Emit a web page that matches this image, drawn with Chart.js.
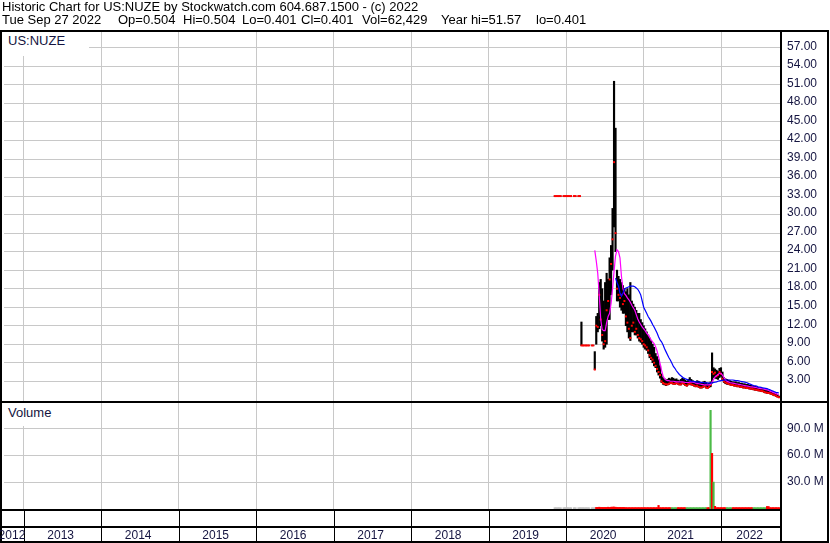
<!DOCTYPE html>
<html>
<head>
<meta charset="utf-8">
<title>US:NUZE historic chart</title>
<script src="https://cdn.jsdelivr.net/npm/chart.js@4.4.1/dist/chart.umd.min.js"></script>
<style>
  html, body { margin: 0; padding: 0; background: #fff; }
  #wrap { position: relative; width: 830px; height: 543px; overflow: hidden;
          font-family: Arial, "Liberation Sans", sans-serif; }
  #chart { position: absolute; left: 0; top: 0; }
  .t { position: absolute; font-size: 13px; line-height: 13px; white-space: nowrap; color: #000; }
  .box { position: absolute; background: #fff; color: #141440; font-size: 13px; line-height: 13px; }
</style>
</head>
<body>
<div id="wrap">
  <canvas id="chart" width="830" height="543"></canvas>
  <div class="t" style="left:2px;top:0">Historic Chart for US:NUZE by Stockwatch.com 604.687.1500 - (c) 2022</div>
  <div class="t" style="left:2px;top:13px">Tue Sep 27 2022</div>
  <div class="t" style="left:118px;top:13px">Op=0.504</div>
  <div class="t" style="left:183px;top:13px">Hi=0.504</div>
  <div class="t" style="left:242px;top:13px">Lo=0.401</div>
  <div class="t" style="left:301px;top:13px">Cl=0.401</div>
  <div class="t" style="left:362px;top:13px">Vol=62,429</div>
  <div class="t" style="left:441px;top:13px">Year hi=51.57</div>
  <div class="t" style="left:536px;top:13px">lo=0.401</div>
  <div class="box" style="left:2px;top:32px;width:81px;height:22px;padding:2px 0 0 6px;">US:NUZE</div>
  <div class="box" style="left:2px;top:403px;width:60px;height:20px;padding:3px 0 0 6px;">Volume</div>
</div>
<script>
// weekly bars, first week starts 7 Nov 2019
const firstWeek = '2019-11-07';

const high = [
  33, 33, 33, 33, 33, null, 33, 33, 33, 33,
  33, 33, null, 33, 33, null, 33, 33, 12.6, 8.8,
  8.8, 8.8, 8.8, 8.8, null, 8.8, 8.8, 7.8, 13.5, 14,
  19, 19.5, 18, 16, 19, 20.5, 19.5, 23, 25, 31,
  51.6, 44, 21, 20, 19.5, 19, 18.5, 18, 17.5, 18,
  17, 19, 16, 15.5, 15, 14.5, 14, 14, 13, 12.5,
  12, 11.5, 11, 10.5, 10, 9.5, 9, 8.5, 7.5, 7,
  6.5, 5.5, 4.2, 3.6, 3.4, 3.2, 3.3, 3.5, 3.4, 3.6,
  3.5, 3.3, 3.4, 3.2, 3.1, 3.3, 3.5, 3.4, 3.2, 3.0,
  3.3, 3.6, 3.3, 3.1, 3.0, 2.9, 3.1, 3.0, 2.8, 2.7,
  2.9, 3.0, 2.8, 2.6, 2.7, 2.9, 7.6, 5.2, 5.0, 4.8,
  4.6, 5.1, 5.2, 4.5, 3.6, 3.4, 3.3, 3.2, 3.1, 3.0,
  2.9, 2.9, 2.9, 2.8, 2.8, 2.7, 2.7, 2.6, 2.6, 2.5,
  2.5, 2.4, 2.4, 2.3, 2.2, 2.2, 2.1, 2.0, 1.9, 1.9,
  1.8, 1.7, 1.6, 1.6, 1.5, 1.4, 1.3, 1.2, 1.1, 1.0,
  0.8, 0.6
];
const low = [
  33, 33, 33, 33, 33, null, 33, 33, 33, 33,
  33, 33, null, 33, 33, null, 33, 33, 8.8, 8.8,
  8.8, 8.8, 8.8, 8.8, null, 8.8, 8.8, 4.9, 9, 11,
  11.5, 12, 9.5, 8.2, 8.5, 9, 13, 13, 17, 21,
  28, 24, 16, 16, 15, 14.5, 14, 14, 12, 11,
  10, 9.6, 11, 11, 10.5, 10.5, 10, 9.5, 9.3, 9,
  8.5, 8.2, 8, 7.5, 6.8, 6.5, 6, 5.5, 5.2, 4.5,
  4, 3.5, 2.8, 2.5, 2.4, 2.3, 2.4, 2.5, 2.6, 2.6,
  2.5, 2.5, 2.6, 2.5, 2.4, 2.4, 2.6, 2.5, 2.3, 2.2,
  2.4, 2.5, 2.4, 2.3, 2.2, 2.1, 2.2, 2.0, 1.9, 1.9,
  2.0, 2.1, 1.9, 1.85, 2.0, 2.1, 2.7, 3.6, 3.5, 3.4,
  3.3, 3.6, 3.8, 3.2, 2.8, 2.6, 2.5, 2.5, 2.4, 2.3,
  2.3, 2.2, 2.2, 2.1, 2.1, 2.0, 2.0, 1.9, 1.9, 1.8,
  1.8, 1.75, 1.7, 1.7, 1.6, 1.55, 1.5, 1.45, 1.4, 1.35,
  1.3, 1.2, 1.1, 1.05, 1.0, 0.95, 0.85, 0.75, 0.65, 0.55,
  0.45, 0.4
];
const close = [
  33, 33, 33, 33, 33, null, 33, 33, 33, 33,
  33, 33, null, 33, 33, null, 33, 33, 8.8, 8.8,
  8.8, 8.8, 8.8, 8.8, null, 8.8, 8.8, 4.9, 12, 11.8,
  17, 13, 10.5, 9, 9.5, 14.5, 16, 19.5, 22, 26,
  38.5, 27, 18, 17, 16.5, 17, 15.5, 16, 13.5, 12.5,
  11.5, 10, 12, 12.5, 11, 11.5, 10.5, 10, 9.8, 9.5,
  9, 8.8, 8.5, 8, 7.2, 6.8, 6.5, 6, 5.5, 5,
  4.5, 4, 3, 2.7, 2.6, 2.5, 2.5, 2.6, 2.7, 2.7,
  2.6, 2.6, 2.7, 2.6, 2.5, 2.5, 2.7, 2.6, 2.4, 2.3,
  2.5, 2.6, 2.5, 2.4, 2.3, 2.2, 2.3, 2.1, 2.0, 2.0,
  2.1, 2.2, 2.0, 1.9, 2.1, 2.4, 4.5, 4.2, 4.4, 3.8,
  4.0, 4.5, 4.2, 3.4, 3.0, 2.8, 2.7, 2.6, 2.5, 2.4,
  2.4, 2.3, 2.3, 2.2, 2.2, 2.1, 2.1, 2.0, 2.0, 1.9,
  1.9, 1.85, 1.8, 1.8, 1.7, 1.65, 1.6, 1.55, 1.5, 1.45,
  1.4, 1.3, 1.2, 1.15, 1.1, 1.05, 0.95, 0.85, 0.75, 0.65,
  0.5, 0.401
];

// short moving average (magenta), starts at week 27
const fastAvgFrom = 27;
const fastAvg = [
  24.2, 22.5, 20.5, 17.0, 13.0, 11.4, 11.2, 11.2, 12.5, 13.5,
  14.0, 15.6, 18.0, 20.8, 23.3, 24.3, 24.0, 23.0, 20.0, 18.0,
  17.2, 16.9, 16.5, 16.2, 15.8, 15.3, 14.9, 14.5, 13.8, 13.1,
  12.6, 12.2, 11.8, 11.5, 11.2, 10.8, 10.5, 10.1, 9.7, 9.4,
  9.1, 8.6, 7.9, 7.0, 5.9, 4.8, 3.9, 3.4, 3.2, 3.1,
  3.1, 3.0, 3.0, 3.0, 2.95, 2.9, 2.9, 2.9, 2.9, 2.9,
  2.85, 2.8, 2.8, 2.8, 2.85, 2.9, 2.85, 2.8, 2.7, 2.65,
  2.6, 2.55, 2.5, 2.45, 2.4, 2.4, 2.4, 2.4, 2.5, 2.9,
  3.3, 3.7, 3.9, 4.1, 4.3, 4.3, 4.0, 3.6, 3.2, 3.0,
  2.9, 2.8, 2.75, 2.7, 2.65, 2.6, 2.55, 2.5, 2.45, 2.4,
  2.35, 2.3, 2.25, 2.2, 2.15, 2.1, 2.1, 2.05, 2.0, 1.95,
  1.9, 1.85, 1.8, 1.75, 1.7, 1.65, 1.6, 1.5, 1.4, 1.3,
  1.2, 1.1, 1.0, 0.9, 0.85
];

// long moving average (blue), starts at week 41
const slowAvgFrom = 41;
const slowAvg = [
  19.7, 19.0, 18.4, 17.3, 16.8, 17.3, 17.9, 18.1, 18.2, 18.3,
  18.4, 18.4, 18.4, 18.3, 18.1, 17.9, 17.5, 17.0, 16.0, 15.0,
  14.5, 14.0, 13.5, 13.1, 12.7, 12.2, 11.8, 11.3, 10.8, 10.2,
  9.7, 9.4, 8.9, 8.3, 7.8, 7.3, 6.8, 6.4, 5.9, 5.4,
  5.1, 4.7, 4.4, 4.1, 3.9, 3.7, 3.5, 3.4, 3.3, 3.2,
  3.1, 3.0, 3.0, 2.95, 2.9, 2.9, 2.85, 2.85, 2.8, 2.8,
  2.75, 2.75, 2.75, 2.7, 2.7, 2.75, 2.8, 2.85, 2.9, 3.0,
  3.05, 3.1, 3.15, 3.2, 3.2, 3.2, 3.2, 3.2, 3.2, 3.2,
  3.15, 3.1, 3.1, 3.05, 3.0, 2.95, 2.9, 2.85, 2.8, 2.7,
  2.6, 2.5, 2.4, 2.3, 2.25, 2.2, 2.1, 2.05, 2.0, 1.95,
  1.9, 1.85, 1.8, 1.7, 1.6, 1.5, 1.4, 1.3, 1.2, 1.15,
  1.1
];

// volume in millions; side: f = unchanged, u = up, d = down
const volume = [
  1.5, 1.5, 1.5, 1.5, 1.5, null, 1.5, 1.5, 1.5, 1.5,
  1.5, 1.5, null, 1.5, 1.5, null, 1.5, 1.5, 1.6, 1.5,
  1.5, 1.5, 1.5, 1.5, null, 1.5, 1.5, 1.6, 1.8, 1.8,
  2.0, 1.8, 1.8, 1.8, 1.8, 1.8, 2.0, 1.8, 2.0, 2.2,
  2.2, 2.0, 1.8, 1.8, 1.8, 1.8, 1.8, 1.8, 1.6, 1.6,
  1.6, 1.6, 1.6, 1.6, 1.6, 1.6, 1.6, 1.6, 1.6, 1.6,
  1.6, 1.6, 1.6, 1.6, 1.6, 1.6, 1.6, 1.6, 1.6, 1.6,
  4.0, 1.6, 1.6, 1.6, 1.6, 1.6, 1.6, 1.6, 1.6, 1.5,
  1.5, 1.5, 1.5, 1.6, 1.6, 1.6, 1.6, 1.6, 1.6, 1.5,
  1.5, 1.5, 1.5, 1.5, 1.5, 1.5, 1.5, 1.5, 1.5, 1.5,
  1.5, 1.5, 1.5, 1.6, 1.6, 110, 62, 30, 3.0, 1.6,
  1.6, 1.6, 1.6, 1.6, 1.6, 1.6, 1.5, 1.5, 1.5, 1.5,
  1.6, 1.6, 1.6, 1.6, 1.6, 1.6, 1.6, 1.6, 1.6, 1.6,
  1.6, 1.6, 1.6, 1.6, 1.5, 1.5, 1.5, 1.5, 1.5, 1.5,
  1.5, 1.5, 1.5, 2.8, 2.8, 1.6, 1.6, 1.6, 1.6, 1.6,
  1.6, 1.6
];
const volSide =
  'ffffffffffffffffffffffffffff' +
  'ddddddddddddddddddddddddddddddddddddddddddddddddddd' +
  'uuuu' + 'dddddd' + 'uuuuuuuuuuuuuu' + 'dd' +
  'udud' + 'ddddddd' + 'uuuu' + 'dddddddddddddd' +
  'uuuuuuuuu' + 'ddddddddd';

const priceTicks = [3, 6, 9, 12, 15, 18, 21, 24, 27, 30, 33, 36, 39, 42, 45, 48, 51, 54, 57];
const volumeTicks = [30, 60, 90];
const gridYears = [2013, 2014, 2015, 2016, 2017, 2018, 2019, 2020, 2021, 2022];
const yearLabels = ['2012', '2013', '2014', '2015', '2016', '2017', '2018', '2019', '2020', '2021', '2022'];

const textColor = '#141440';
const gridColor = '#c8c8c8';
const sideColor = { f: '#c0c0c0', u: '#4cbb47', d: '#ff0000' };

function weekToYear(i) {
  const t = Date.parse(firstWeek) + i * 7 * 864e5;
  const y = new Date(t).getUTCFullYear();
  const y0 = Date.UTC(y, 0, 1), y1 = Date.UTC(y + 1, 0, 1);
  return y + (t - y0) / (y1 - y0);
}
const wx = close.map((_, i) => weekToYear(i));
const weeks = close.map((_, i) => i);

const rangeData = weeks.filter(i => high[i] != null).map(i => ({ x: wx[i], y: [low[i], high[i]] }));
const closeData = weeks.filter(i => close[i] != null).map(i => ({ x: wx[i], y: close[i] }));
const fastData = fastAvg.map((v, k) => ({ x: wx[fastAvgFrom + k], y: v }));
const slowData = slowAvg.map((v, k) => ({ x: wx[slowAvgFrom + k], y: v }));
const volIdx = weeks.filter(i => volume[i] != null);
const volData = volIdx.map(i => ({ x: wx[i], y: volume[i] }));
const volColors = volIdx.map(i => sideColor[volSide[i]]);

Chart.defaults.font.family = 'Arial, "Liberation Sans", sans-serif';

const framePlugin = {
  id: 'frame',
  afterDraw(chart) {
    const ctx = chart.ctx;
    const xs = chart.scales.x;
    const area = chart.chartArea;
    const split = chart.scales.v.top;
    ctx.save();
    ctx.fillStyle = '#000';
    gridYears.forEach(yr => {
      const px = Math.round(xs.getPixelForValue(yr));
      ctx.fillRect(px, area.bottom, 1, 33);
    });
    ctx.fillRect(0, 30, 829, 2);
    ctx.fillRect(0, 541, 829, 2);
    ctx.fillRect(0, 30, 2, 513);
    ctx.fillRect(827, 30, 2, 513);
    ctx.fillRect(area.right - 2, 30, 2, 513);
    ctx.fillRect(0, split - 1, 829, 2);
    ctx.fillRect(0, area.bottom, area.right, 2);
    ctx.fillRect(0, area.bottom + 17, area.right, 2);

    ctx.fillStyle = textColor;
    ctx.font = '12px Arial, "Liberation Sans", sans-serif';
    ctx.textAlign = 'center';
    ctx.textBaseline = 'alphabetic';
    yearLabels.forEach(lab => {
      const yr = Number(lab);
      const a = Math.max(yr, xs.min), b = Math.min(yr + 1, xs.max);
      ctx.fillText(lab, xs.getPixelForValue((a + b) / 2) - 2, 539);
    });
    ctx.restore();
  }
};

new Chart(document.getElementById('chart'), {
  type: 'bar',
  data: {
    datasets: [
      {
        type: 'bar', label: 'range', yAxisID: 'y', order: 4, grouped: false,
        barThickness: 1.5, backgroundColor: '#000', borderWidth: 0, data: rangeData
      },
      {
        type: 'line', label: 'close', yAxisID: 'y', order: 3, showLine: false,
        pointStyle: 'rect', pointRadius: 1.4, pointBorderWidth: 0,
        pointBackgroundColor: '#ff0000', pointBorderColor: '#ff0000', data: closeData
      },
      {
        type: 'line', label: 'fast', yAxisID: 'y', order: 2, borderColor: '#ff00ff',
        borderWidth: 1.2, pointRadius: 0, tension: 0, data: fastData
      },
      {
        type: 'line', label: 'slow', yAxisID: 'y', order: 1, borderColor: '#0000ff',
        borderWidth: 1.2, pointRadius: 0, tension: 0, data: slowData
      },
      {
        type: 'bar', label: 'volume', yAxisID: 'v', order: 5, grouped: false,
        barThickness: 1.5, backgroundColor: volColors, borderWidth: 0, data: volData
      }
    ]
  },
  options: {
    responsive: false,
    animation: false,
    devicePixelRatio: 1,
    events: [],
    layout: { padding: { top: 32, left: 0, right: 0, bottom: 0 } },
    plugins: { legend: { display: false }, tooltip: { enabled: false } },
    scales: {
      x: {
        type: 'linear', position: 'bottom', min: 2012.743, max: 2022.782,
        offset: false,
        afterBuildTicks: s => { s.ticks = gridYears.map(v => ({ value: v })); },
        afterFit: s => { s.height = 34; },
        grid: { color: gridColor, lineWidth: 1, drawTicks: false, offset: false },
        border: { display: false },
        ticks: { display: false }
      },
      y: {
        type: 'linear', position: 'right', stack: 'panels', stackWeight: 370,
        min: -0.36, max: 59.58,
        afterBuildTicks: s => { s.ticks = priceTicks.map(v => ({ value: v })); },
        afterFit: s => { s.width = 48; },
        grid: { color: gridColor, lineWidth: 1, drawTicks: false },
        border: { display: false },
        ticks: {
          padding: 5, color: textColor, font: { size: 12 }, labelOffset: -1.5,
          autoSkip: false, callback: v => v.toFixed(2)
        }
      },
      v: {
        type: 'linear', position: 'right', stack: 'panels', stackWeight: 107,
        min: 0, max: 119.3,
        afterBuildTicks: s => { s.ticks = volumeTicks.map(v => ({ value: v })); },
        afterFit: s => { s.width = 48; },
        grid: { color: gridColor, lineWidth: 1, drawTicks: false },
        border: { display: false },
        ticks: {
          padding: 5, color: textColor, font: { size: 12 },
          autoSkip: false, callback: v => v.toFixed(1) + ' M'
        }
      }
    }
  },
  plugins: [framePlugin]
});
</script>
</body>
</html>
